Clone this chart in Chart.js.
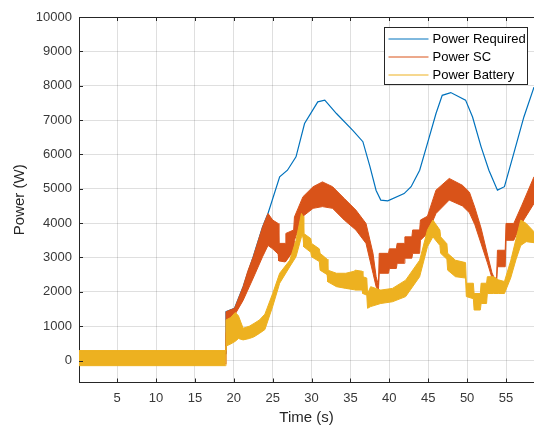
<!DOCTYPE html>
<html>
<head>
<meta charset="utf-8">
<script src="https://cdn.jsdelivr.net/npm/chart.js@4.4.1/dist/chart.umd.min.js"></script>
<style>
  html, body { margin: 0; padding: 0; background: #fff; }
  canvas { display: block; }
</style>
</head>
<body>
<canvas id="powerChart" width="534" height="431"></canvas>
<script>
document.addEventListener( "DOMContentLoaded", () => {

    // Data
    // ----------------------------------------------
    const seriesNames = ['Power Required', 'Power SC', 'Power Battery'];
    const seriesColors = ['#0072BD', '#D95319', '#EDB120'];

    // Power Required (thin line)
    const timeReq  = [0.1, 18.9, 19.0, 20.1, 21.2, 22.5, 23.7, 24.4, 25.9, 26.9, 28.0, 29.1, 30.8, 31.7, 33.2, 35.3, 36.6, 37.5, 38.3, 38.9, 39.8, 41.9, 42.8, 43.9, 44.9, 46.0, 46.8, 47.9, 49.8, 50.7, 51.8, 52.8, 53.9, 54.8, 56.0, 57.3, 58.6];
    const powerReq = [200, 200, 1420, 1520, 2150, 3020, 3890, 4280, 5350, 5540, 5930, 6900, 7530, 7580, 7190, 6700, 6370, 5650, 4950, 4670, 4650, 4860, 5060, 5540, 6320, 7190, 7720, 7800, 7580, 7090, 6220, 5540, 4960, 5060, 6030, 7090, 7960];

    // Power SC (oscillating band: upper / lower envelope)
    const timeSC = [0.1, 18.9, 19.0, 20.1, 21.2, 21.8, 22.5, 23.7, 24.4, 25.0, 25.7, 25.8, 26.6, 26.7, 27.7, 27.8, 28.9, 30.2, 31.4, 32.7, 34.2, 35.7, 37.0, 37.9, 38.3, 38.6, 38.7, 39.9, 40.0, 40.9, 41.0, 41.9, 42.0, 42.9, 43.0, 43.9, 44.0, 44.9, 46.0, 47.7, 49.4, 50.3, 51.0, 51.8, 52.6, 53.2, 53.6, 53.8, 53.9, 54.9, 55.0, 56.0, 57.0, 58.6];
    const scHigh = [200, 200, 1420, 1520, 2150, 2600, 3020, 3890, 4280, 4090, 3990, 3410, 3410, 3700, 3800, 4180, 4770, 5060, 5200, 5060, 4720, 4380, 3990, 3120, 2440, 2200, 3120, 3120, 3250, 3250, 3410, 3410, 3600, 3600, 3800, 3800, 4090, 4200, 4960, 5300, 5100, 4900, 4450, 3850, 3100, 2550, 2350, 2450, 3210, 3210, 3990, 3990, 4500, 5350];
    const scLow  = [-100, -100, 800, 1320, 1750, 2050, 2400, 3020, 3350, 3250, 3100, 2900, 2870, 2870, 3200, 3500, 4200, 4430, 4480, 4430, 4090, 3800, 3410, 2540, 2150, 2050, 2540, 2540, 2680, 2680, 2830, 2830, 2980, 2980, 3120, 3120, 3500, 3700, 4280, 4670, 4500, 4300, 3950, 3400, 2850, 2400, 2200, 2300, 2730, 2730, 3500, 3500, 3990, 4570];

    // Power Battery (oscillating band: upper / lower envelope)
    const timeBat = [0.1, 18.9, 19.0, 19.6, 20.2, 20.6, 21.2, 22.0, 22.6, 23.3, 24.0, 25.0, 25.9, 27.2, 28.0, 28.7, 28.9, 29.0, 29.9, 30.0, 31.0, 31.1, 32.0, 32.1, 33.2, 34.4, 35.5, 35.6, 36.5, 36.6, 37.1, 37.2, 37.6, 38.9, 40.4, 42.1, 43.9, 44.9, 45.6, 46.5, 46.6, 47.4, 47.5, 48.5, 49.8, 49.9, 50.8, 50.9, 51.7, 51.8, 52.5, 52.6, 53.4, 54.0, 54.8, 55.6, 56.3, 56.9, 57.6, 58.6];
    const batHigh = [290, 290, 1180, 1250, 1400, 1300, 940, 1000, 1080, 1180, 1350, 1950, 2540, 2920, 3500, 4280, 4200, 3700, 3550, 3410, 3250, 3120, 2950, 2630, 2540, 2540, 2600, 2630, 2600, 2440, 2400, 1950, 2150, 2050, 2100, 2340, 2920, 3800, 4090, 3800, 3600, 3400, 3120, 2920, 2850, 2250, 2250, 1950, 1950, 2250, 2250, 2440, 2440, 2350, 2300, 2900, 3550, 4090, 3990, 3750];
    const batLow  = [-150, -150, 420, 480, 560, 640, 600, 640, 690, 790, 900, 1570, 2250, 2730, 3020, 3600, 3600, 3310, 3150, 3020, 2880, 2630, 2500, 2290, 2150, 2100, 2060, 2050, 2050, 1950, 1900, 1520, 1570, 1660, 1710, 1860, 2440, 3310, 3600, 3350, 3120, 2950, 2630, 2440, 2400, 1860, 1800, 1470, 1470, 1660, 1660, 1950, 1950, 1950, 1950, 2400, 2950, 3350, 3460, 3430];

    // Axis ticks
    const xTicks = [5, 10, 15, 20, 25, 30, 35, 40, 45, 50, 55];
    const yTicks = [0, 1000, 2000, 3000, 4000, 5000, 6000, 7000, 8000, 9000, 10000];


    // Helpers
    // ----------------------------------------------
    const toPoints = ( t, v ) => t.map( ( x, i ) => ({ x: x, y: v[i] }) );
    const axisColor = '#262626';
    const labelColor = '#383838';
    const gridColor = 'rgba( 38, 38, 38, .15 )';
    const fontFamily = '"Liberation Sans", Arial, Helvetica, sans-serif';


    // MATLAB-like box: top edge, inward tick marks and legend
    // ----------------------------------------------
    const matlabBox = {
        id: 'matlabBox',
        afterDraw( chart ) {
            const { ctx, chartArea: a, scales } = chart;
            ctx.save();
            ctx.strokeStyle = axisColor;
            ctx.lineWidth = 1;

            // top border
            ctx.beginPath();
            ctx.moveTo( a.left, a.top + .5 );
            ctx.lineTo( a.right, a.top + .5 );
            ctx.stroke();

            // tick marks pointing inwards
            ctx.beginPath();
            xTicks.forEach( v => {
                const px = Math.round( scales.x.getPixelForValue( v ) ) + .5;
                ctx.moveTo( px, a.bottom );
                ctx.lineTo( px, a.bottom - 4 );
                ctx.moveTo( px, a.top );
                ctx.lineTo( px, a.top + 4 );
            });
            yTicks.forEach( v => {
                const py = Math.round( scales.y.getPixelForValue( v ) ) + .5;
                ctx.moveTo( a.left, py );
                ctx.lineTo( a.left + 4, py );
            });
            ctx.stroke();

            // legend
            const lx = 384.5, ly = 27.5, lw = 143, lh = 57;
            ctx.fillStyle = '#fff';
            ctx.fillRect( lx, ly, lw, lh );
            ctx.strokeRect( lx, ly, lw, lh );
            ctx.font = '13px ' + fontFamily;
            ctx.textBaseline = 'middle';
            ctx.textAlign = 'left';
            seriesNames.forEach( ( name, i ) => {
                const y = ly + 11.5 + i * 18;
                ctx.strokeStyle = seriesColors[i];
                ctx.beginPath();
                ctx.moveTo( lx + 4, y );
                ctx.lineTo( lx + 44, y );
                ctx.stroke();
                ctx.fillStyle = '#000';
                ctx.fillText( name, lx + 48, y + .5 );
            });
            ctx.restore();
        }
    };


    // Chart
    // ----------------------------------------------
    new Chart(
        document.getElementById('powerChart'), {
            type: 'line',
            data: {
                datasets: [
                    {
                        label: seriesNames[0],
                        data: toPoints( timeReq, powerReq ),
                        borderColor: seriesColors[0],
                        borderWidth: 1.2,
                        fill: false,
                        order: 2
                    },
                    {
                        label: seriesNames[1] + ' low',
                        data: toPoints( timeSC, scLow ),
                        borderColor: seriesColors[1],
                        borderWidth: 1,
                        fill: false,
                        order: 1
                    },
                    {
                        label: seriesNames[1],
                        data: toPoints( timeSC, scHigh ),
                        borderColor: seriesColors[1],
                        backgroundColor: seriesColors[1],
                        borderWidth: 1,
                        fill: '-1',
                        order: 1
                    },
                    {
                        label: seriesNames[2] + ' low',
                        data: toPoints( timeBat, batLow ),
                        borderColor: seriesColors[2],
                        borderWidth: 1,
                        fill: false,
                        order: 0
                    },
                    {
                        label: seriesNames[2],
                        data: toPoints( timeBat, batHigh ),
                        borderColor: seriesColors[2],
                        backgroundColor: seriesColors[2],
                        borderWidth: 1,
                        fill: '-1',
                        order: 0
                    }
                ]
            },
            options: {
                responsive: false,
                animation: false,
                devicePixelRatio: 1,
                layout: {
                    padding: { top: 17, right: 0, bottom: 0, left: 0 }
                },
                elements: {
                    point: { radius: 0 },
                    line: { tension: 0 }
                },
                plugins: {
                    legend: { display: false },
                    tooltip: { enabled: false }
                },
                scales: {
                    x: {
                        type: 'linear',
                        min: 0.1,
                        max: 58.6,
                        afterFit: s => { s.height = 48.5; },
                        afterBuildTicks: s => { s.ticks = xTicks.map( v => ({ value: v }) ); },
                        grid: { color: gridColor, drawTicks: false },
                        border: { color: axisColor, width: 1 },
                        ticks: {
                            padding: 8,
                            maxRotation: 0,
                            autoSkip: false,
                            color: labelColor,
                            font: { size: 13, family: fontFamily }
                        },
                        title: {
                            display: true,
                            text: 'Time (s)',
                            color: axisColor,
                            font: { size: 15, family: fontFamily },
                            padding: { top: 0, bottom: 4 }
                        }
                    },
                    y: {
                        min: -640,
                        max: 10000,
                        afterFit: s => { s.width = 79; },
                        afterBuildTicks: s => { s.ticks = yTicks.map( v => ({ value: v }) ); },
                        grid: { color: gridColor, drawTicks: false },
                        border: { color: axisColor, width: 1 },
                        ticks: {
                            padding: 7,
                            autoSkip: false,
                            color: labelColor,
                            font: { size: 13, family: fontFamily },
                            callback: v => String( v )
                        },
                        title: {
                            display: true,
                            text: 'Power (W)',
                            color: axisColor,
                            font: { size: 15, family: fontFamily },
                            padding: { top: 11, bottom: 0 }
                        }
                    }
                }
            },
            plugins: [ matlabBox ]
        }
    );

});
</script>
</body>
</html>
